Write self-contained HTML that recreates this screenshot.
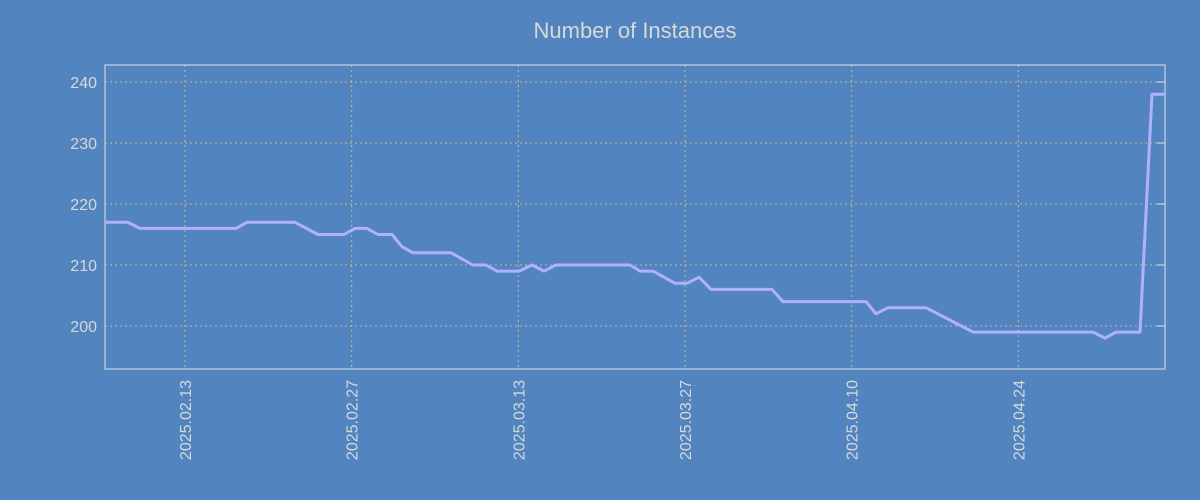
<!DOCTYPE html>
<html><head><meta charset="utf-8"><style>
body{margin:0;background:#5284c0;}
svg{display:block;font-family:"Liberation Sans","DejaVu Sans",sans-serif;}
</style></head><body>
<svg id="chart" width="1200" height="500">
<rect width="1200" height="500" fill="#5284c0"/>
<text x="635" y="38" text-anchor="middle" font-size="22" fill="#d8d8d8">Number of Instances</text>
<g id="grid"></g>
<g id="axes"></g>
<g id="series"></g>
</svg>
<script>
// days relative to 2025.02.13
const days=[-6.72,-4.79,-3.78,4.28,5.21,9.24,11.17,13.36,14.28,15.29,16.21,17.39,18.23,19.15,22.34,24.19,25.28,26.21,28.06,29.15,30.16,31.16,37.38,38.22,39.31,41.16,42.17,43.18,44.18,49.31,50.23,57.20,58.04,59.05,62.24,66.19,76.27,77.28,78.20,80.22,81.23,82.32];
const values=[217,217,216,216,217,217,215,215,216,216,215,215,213,212,212,210,210,209,209,210,209,210,210,209,209,207,207,208,206,206,204,204,202,203,203,199,199,198,199,199,238,238];
const yTicks=[200,210,220,230,240];
const xTickDays=[0,14,28,42,56,70];
const xTickLabels=["2025.02.13","2025.02.27","2025.03.13","2025.03.27","2025.04.10","2025.04.24"];
const L=105,R=1165,T=65,B=369;
const x=d=>185+d*(166.67/14);
const y=v=>326-(v-200)*6.1;
const NS="http://www.w3.org/2000/svg";
function mk(tag,attrs,parent){const e=document.createElementNS(NS,tag);for(const k in attrs)e.setAttribute(k,attrs[k]);document.getElementById(parent).appendChild(e);return e;}
yTicks.forEach(v=>{
  const g=mk("line",{x1:L,x2:R,y1:y(v),y2:y(v),stroke:"#c8b890","stroke-dasharray":"2,3","stroke-width":1},"grid");
  
  
  const t=mk("text",{x:97,y:y(v)+6,"text-anchor":"end","font-size":16,fill:"#d8d8d8"},"axes");
  t.textContent=v;
  
  
  const tk=mk("line",{x1:R-8,x2:R,y1:y(v),y2:y(v),stroke:"#e0e0e0"},"axes");
  
  
});
xTickDays.forEach((d,i)=>{
  const g=mk("line",{x1:x(d),x2:x(d),y1:T,y2:B,stroke:"#c8b890","stroke-dasharray":"2,3","stroke-width":1},"grid");
  
  
  const t=mk("text",{x:0,y:0,"text-anchor":"end","font-size":16,fill:"#d8d8d8",transform:`translate(${x(d)+6},380) rotate(-90)`},"axes");
  t.textContent=xTickLabels[i];
  
  
});
const fr=mk("rect",{x:L,y:T,width:R-L,height:B-T,fill:"none",stroke:"#e0e0e0","stroke-width":1},"axes");


const pts=days.map((d,i)=>x(d).toFixed(1)+","+y(values[i]).toFixed(1)).join(" ");
const pl=mk("polyline",{points:pts,fill:"none",stroke:"#b0b0ff","stroke-width":3,"stroke-linejoin":"round"},"series");


</script>
</body></html>
